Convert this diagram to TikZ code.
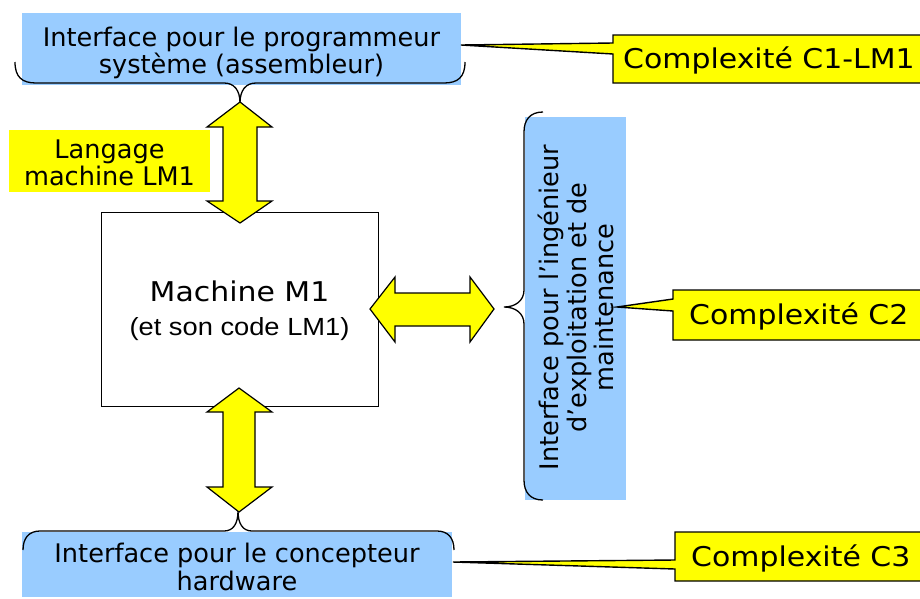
\documentclass[tikz,border=0pt]{standalone}
\usepackage{fontspec}
\setmainfont{DejaVu Sans}
\newfontfamily\widefont[FakeStretch=1.1]{DejaVu Sans}
\newfontfamily\arialfont[FakeStretch=1.1]{Liberation Sans}
\definecolor{ifblue}{HTML}{99CCFF}
\definecolor{hiyellow}{HTML}{FFFF00}
\begin{document}
\begin{tikzpicture}[x=1pt,y=-1pt,
  bluebox/.style={fill=ifblue,draw=none,inner sep=0pt},
  bodytext/.style={inner sep=0pt,align=center,font=\fontsize{25.6}{27.5}\selectfont},
  bracepath/.style={draw=black,line width=1.3pt},
  bigarrow/.style={draw=black,fill=hiyellow,line width=1.2pt,line join=miter},
  callout/.style={draw=black,fill=hiyellow,line width=1.4pt,line join=miter},
  calltext/.style={inner sep=0pt,anchor=base west,font=\widefont\fontsize{27.2}{30}\selectfont}]
\useasboundingbox (0,0) rectangle (920,598);
\clip (0,0) rectangle (920,598);

% interface boxes
\node[bluebox,minimum width=439pt,minimum height=72pt] (top) at (241.5,49) {};
\node[bluebox,minimum width=430pt,minimum height=65pt] (bot) at (237,564.5) {};
\node[bluebox,minimum width=101pt,minimum height=383pt] (right) at (575.5,308.5) {};

% braces grouping each interface
\draw[bracepath] (15,62) .. controls (15,77) and (22,83) .. (36,83) -- (224,83)
  .. controls (234,83) and (240,90) .. (240,103)
  .. controls (240,90) and (246,83) .. (256,83) -- (444,83)
  .. controls (458,83) and (465,77) .. (465,62);
\draw[bracepath] (23,550) .. controls (23,538) and (29,531) .. (40,531) -- (224,531)
  .. controls (233,531) and (238,524) .. (238,511)
  .. controls (238,524) and (243,531) .. (252,531) -- (437,531)
  .. controls (448,531) and (454,538) .. (454,550);
\draw[bracepath] (543,112) .. controls (530,112) and (524,120) .. (524,132) -- (524,290)
  .. controls (524,301) and (515,307) .. (504,307)
  .. controls (515,307) and (524,313) .. (524,324) -- (524,480)
  .. controls (524,492) and (530,500) .. (543,500);

% the machine
\node[draw=black,line width=1pt,fill=white,minimum width=277pt,minimum height=194pt] (m1) at (239.5,309) {};
\node[inner sep=0pt,align=center,font=\fontsize{27.2}{34}\selectfont] (m1text) at (239.5,311)
  {\widefont Machine M1\\
   \arialfont\fontsize{24.8}{34}\selectfont (et son code LM1)};

% double arrows
\draw[bigarrow] (240,102) -- (272,127) -- (257,127) -- (257,201) -- (272,201) -- (240,223)
  -- (207,201) -- (223,201) -- (223,127) -- (207,127) -- cycle;
\draw[bigarrow] (239,388) -- (272,412) -- (255,412) -- (255,487) -- (272,487) -- (239,512)
  -- (207,487) -- (223,487) -- (223,412) -- (207,412) -- cycle;
\draw[bigarrow] (370,309) -- (395,277) -- (395,293) -- (470,293) -- (470,277) -- (494,309)
  -- (470,342) -- (470,326) -- (395,326) -- (395,342) -- cycle;

% machine language label
\node[fill=hiyellow,inner sep=0pt,minimum width=201pt,minimum height=62pt] (lm1) at (109.5,161) {};
\node[bodytext] (lm1text) at (109.5,163) {Langage\\machine LM1};

% interface texts
\node[bodytext] (toptext) at (241.5,53) {Interface pour le programmeur\\système (assembleur)};
\node[bodytext] (bottext) at (237,567) {Interface pour le concepteur\\hardware};
\node[bodytext,rotate=90] (righttext) at (576,307.5) {Interface pour l’ingénieur\\d’exploitation et de\\maintenance};

% complexity callouts
\draw[callout] (613,35) -- (930,35) -- (930,83) -- (613,83) -- (613,54) -- (461,45) -- (613,43) -- cycle;
\draw[callout] (673,290) -- (930,290) -- (930,340) -- (673,340) -- (673,311) -- (617,307) -- (673,299) -- cycle;
\draw[callout] (675,532) -- (930,532) -- (930,581) -- (675,581) -- (675,569) -- (453,562) -- (675,560) -- cycle;
\node[calltext] (c1) at (623,68) {Complexité C1-LM1};
\node[calltext] (c2) at (689,324) {Complexité C2};
\node[calltext] (c3) at (691,566) {Complexité C3};
\end{tikzpicture}
\end{document}
